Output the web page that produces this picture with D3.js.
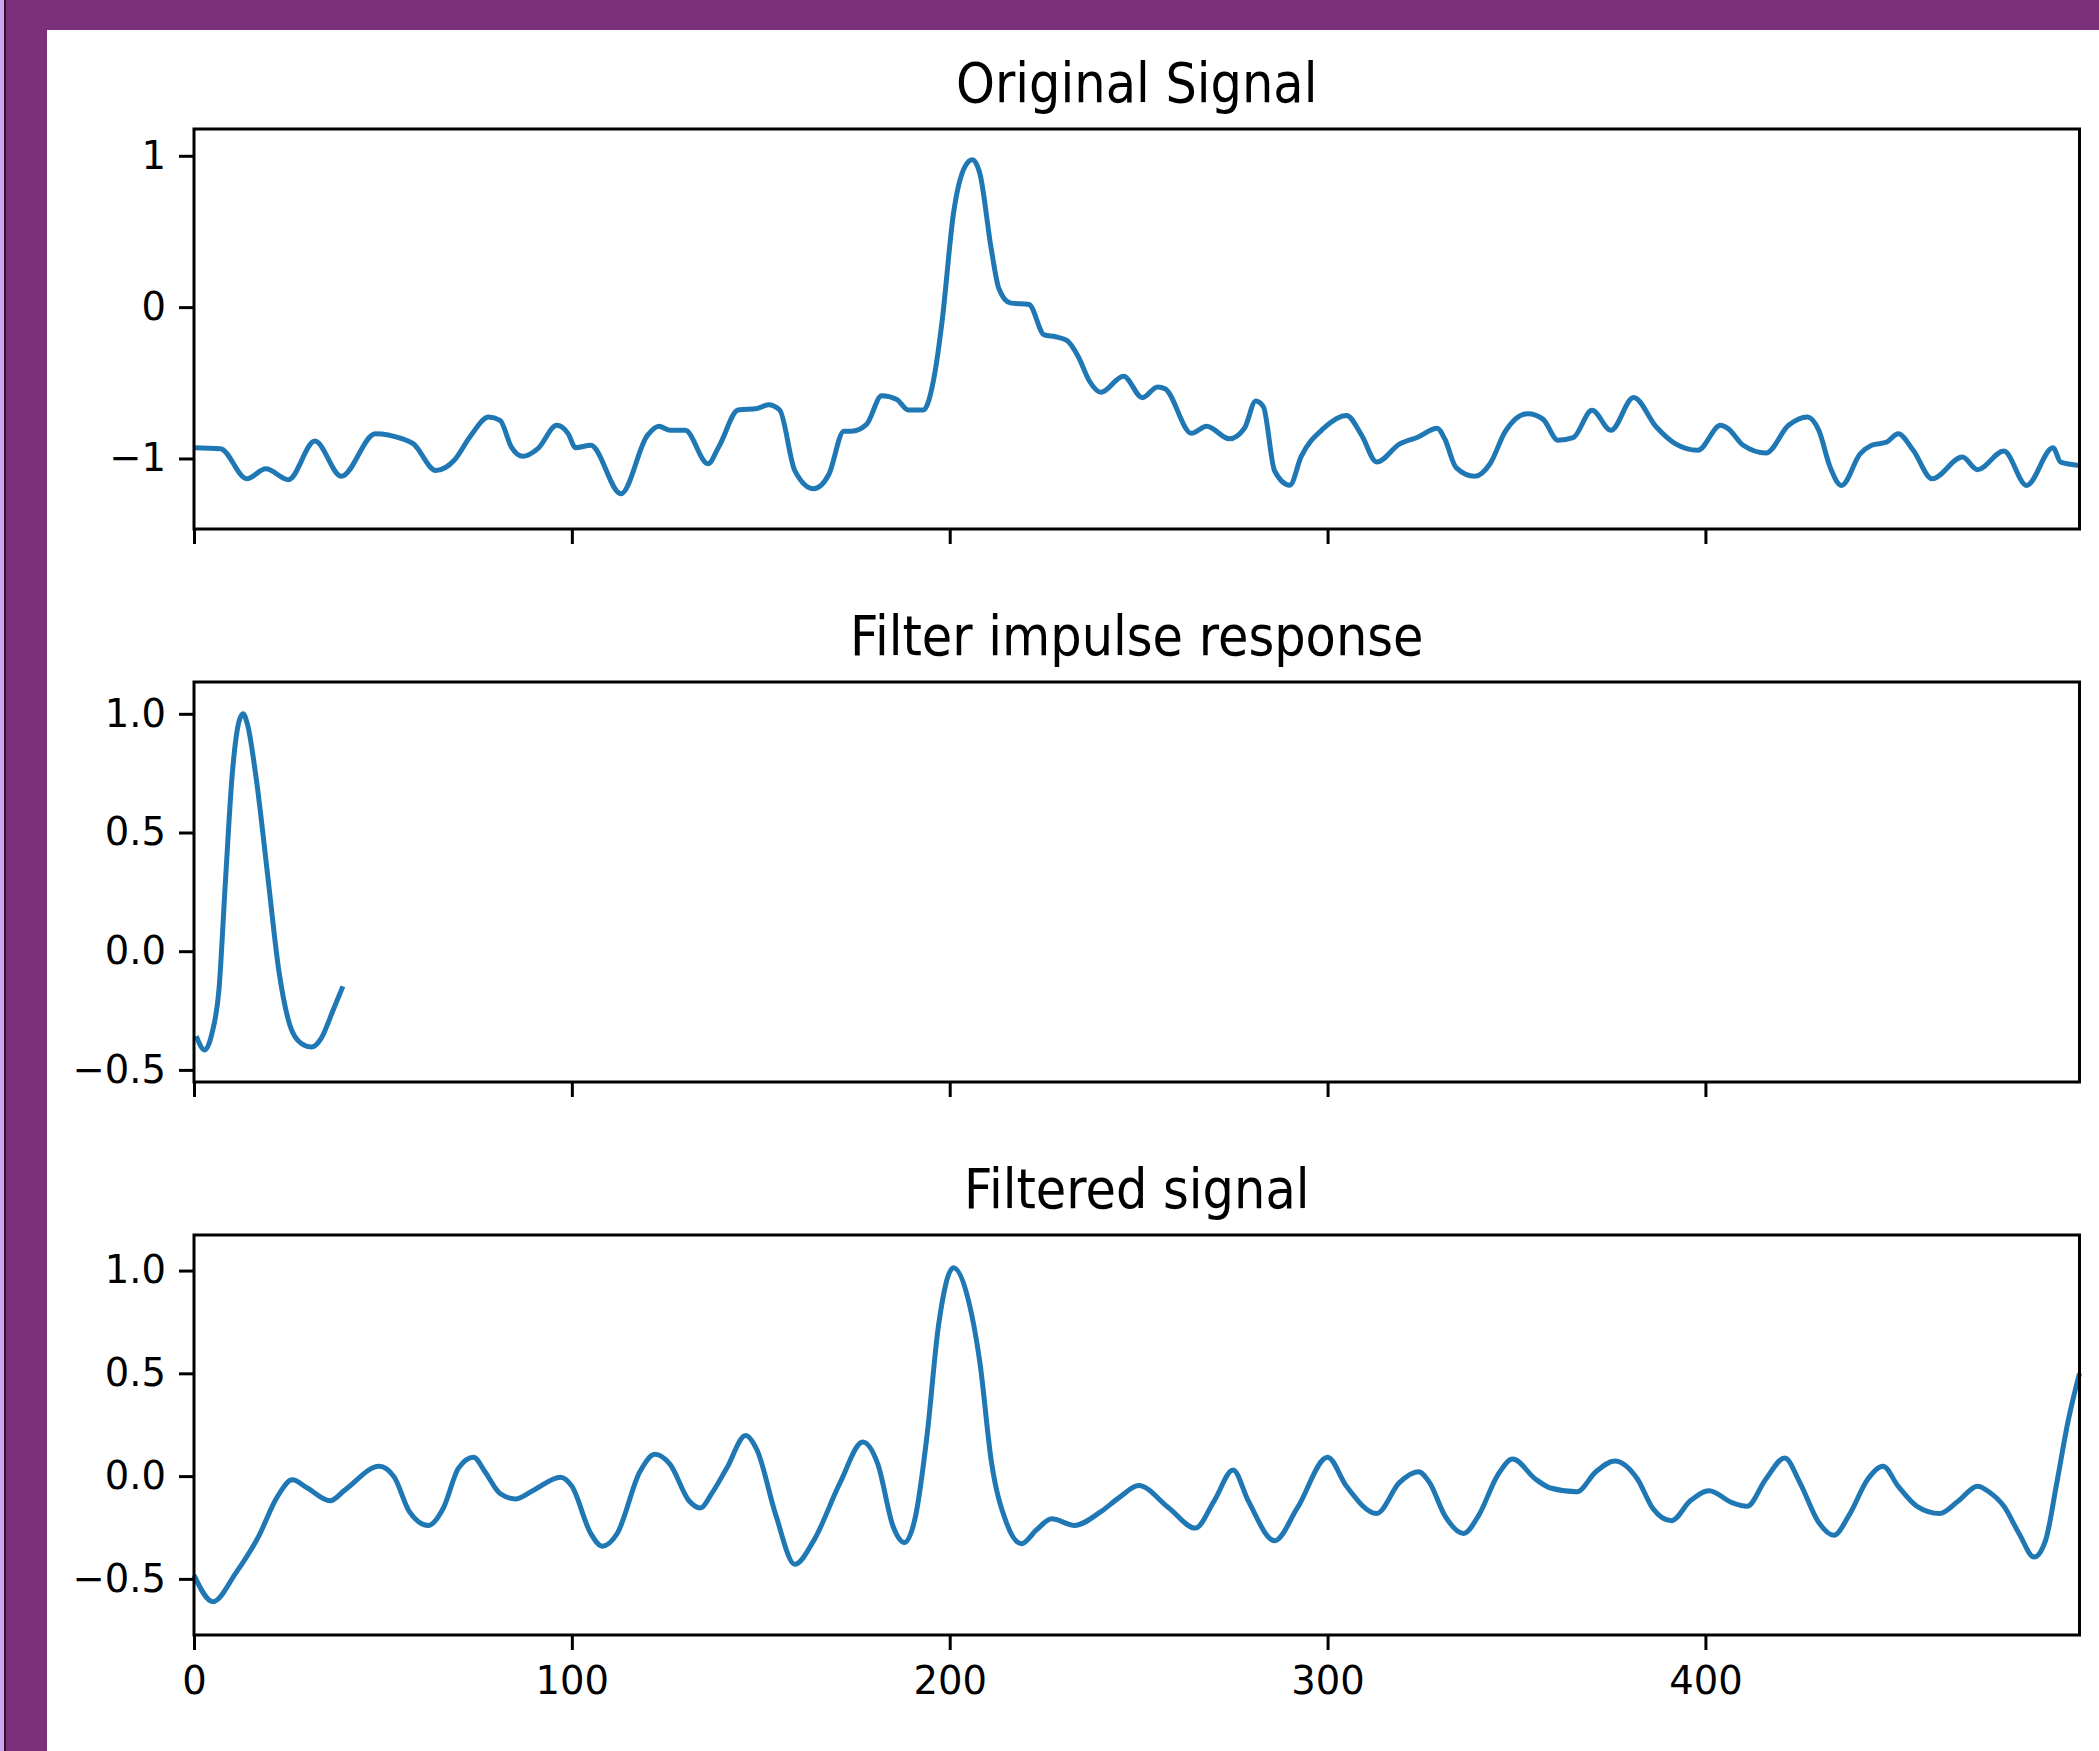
<!doctype html>
<html lang="en">
<head>
  <meta charset="utf-8">
  <title>Signal filtering</title>
  <style>
    body {
      margin: 0;
      background: #fff;
    }
    svg {
      display: block;
      font-family: "DejaVu Sans", sans-serif;
    }
    .frame {
      fill: none;
      stroke: #000;
      stroke-width: 3;
    }
    .axis .domain {
      display: none;
    }
    .axis line {
      stroke: #000;
      stroke-width: 3;
    }
    /* d3 puts font-family="sans-serif" on the axis group, so override it on the text */
    .axis text {
      font-family: "DejaVu Sans", sans-serif;
      font-size: 38.5px;
      fill: #000;
    }
    .title {
      font-size: 49.5px;
      fill: #000;
    }
    .signal {
      fill: none;
      stroke: #1f77b4;
      stroke-width: 5;
      stroke-linejoin: round;
    }
  </style>
</head>

<body>
  <div id="chart"></div>

  <script src="https://cdn.jsdelivr.net/npm/d3@7/dist/d3.min.js"></script>

  <script>
  // values (sample index, amplitude)
  var origX = [0,7,14,19,25,32,39,48,55,58,64,69,73,78,81,84,87,91,96,99,101,105,113,120,123,126,
    130,136,139,144,149,152,155,159,164,168,172,174,178,182,186,189,193,196,198,201,204,206,208,
    211,213,216,221,225,228,231,234,237,240,246,251,255,257,264,268,274,278,281,283,286,290,293,
    299,305,309,313,319,324,329,331,334,339,343,347,353,357,361,365,370,375,381,387,392,398,404,
    406,410,416,422,427,430,433,436,441,444,448,451,455,460,468,472,479,485,492,494,499];
  var origY = [-0.929,-0.935,-1.134,-1.068,-1.14,-0.885,-1.118,-0.836,-0.869,-0.902,-1.079,-1.008,
    -0.858,-0.726,-0.748,-0.925,-0.986,-0.935,-0.781,-0.836,-0.929,-0.913,-1.233,-0.847,-0.787,
    -0.814,-0.814,-1.035,-0.917,-0.68,-0.67,-0.645,-0.68,-1.08,-1.2,-1.106,-0.82,-0.82,-0.775,
    -0.586,-0.61,-0.68,-0.68,-0.444,-0.09,0.62,0.927,0.974,0.88,0.383,0.123,0.028,0.017,-0.184,
    -0.196,-0.22,-0.326,-0.49,-0.563,-0.456,-0.598,-0.527,-0.539,-0.834,-0.787,-0.87,-0.8,-0.62,
    -0.657,-1.083,-1.177,-0.988,-0.8,-0.716,-0.846,-1.024,-0.905,-0.858,-0.8,-0.87,-1.06,-1.118,
    -1.035,-0.823,-0.704,-0.74,-0.88,-0.863,-0.681,-0.814,-0.597,-0.792,-0.902,-0.946,-0.781,
    -0.803,-0.913,-0.964,-0.781,-0.726,-0.814,-1.057,-1.178,-0.968,-0.913,-0.891,-0.836,-0.946,
    -1.134,-0.991,-1.074,-0.951,-1.178,-0.929,-1.024,-1.046];

  var impX = [0.6,2.8,4.8,6.6,8.3,10.1,11.9,13,14.2,16.6,19.5,22.5,25.4,28.4,31.1,33.7,36.7,39.4];
  var impY = [-0.358,-0.416,-0.343,-0.163,0.289,0.741,0.967,1.0,0.952,0.711,0.319,-0.087,-0.313,
    -0.389,-0.404,-0.366,-0.253,-0.148];

  var filtX = [0,5,11,17,22,26,30,36,40,49,53,57,62,66,70,74,77,81,85,90,97,100,105,108,112,118,
    122,126,131,134,137,141,146,149,154,159,164,171,177,181,185,188,191,194,197,201,205,208,211,
    215,219,223,227,233,240,245,250,258,265,270,275,279,286,292,300,305,313,319,324,327,331,336,
    340,345,349,355,359,366,371,376,382,386,391,396,401,407,411,416,421,425,430,434,438,443,447,
    451,456,462,467,472,475,479,483,487,490,493,496,499];
  var filtY = [-0.482,-0.611,-0.473,-0.297,-0.102,-0.018,-0.058,-0.12,-0.067,0.048,-0.005,-0.173,
    -0.24,-0.155,0.039,0.092,0.021,-0.085,-0.111,-0.067,-0.005,-0.049,-0.279,-0.341,-0.279,0.021,
    0.106,0.057,-0.12,-0.155,-0.085,0.039,0.198,0.127,-0.191,-0.429,-0.314,-0.032,0.166,0.057,
    -0.244,-0.323,-0.191,0.198,0.728,1.014,0.852,0.551,0.074,-0.226,-0.329,-0.261,-0.208,-0.24,
    -0.173,-0.102,-0.046,-0.155,-0.253,-0.12,0.03,-0.12,-0.314,-0.155,0.092,-0.049,-0.182,-0.032,
    0.021,-0.032,-0.191,-0.279,-0.191,0.004,0.083,-0.014,-0.058,-0.076,0.021,0.074,-0.014,-0.155,
    -0.217,-0.12,-0.071,-0.129,-0.147,-0.014,0.088,-0.032,-0.226,-0.288,-0.191,-0.014,0.048,-0.049,
    -0.147,-0.182,-0.12,-0.049,-0.076,-0.147,-0.279,-0.394,-0.314,-0.032,0.269,0.5];

  var titles = ["Original Signal", "Filter impulse response", "Filtered signal"];
  var xTicks = [0, 100, 200, 300, 400];
  var xLimits = [0, 499];
  var yTicks = [[-1, 0, 1], [-0.5, 0, 0.5, 1], [-0.5, 0, 0.5, 1]];
  var yLimits = [[-1.466, 1.177], [-0.551, 1.134], [-0.773, 1.173]];

  (function(){

    var width = 2099;
    var height = 1751;
    var left = 194, right = 2079.5;
    var tops = [129, 682, 1235];
    var panelH = 400;

    var svg = d3.select("#chart")
        .append("svg")
        .attr("width", width)
        .attr("height", height);

    // purple frame on top and left, as in the screenshot
    svg.append("rect").attr("x", 0).attr("y", 0).attr("width", width).attr("height", 30)
      .attr("fill", "#7b3179");
    svg.append("rect").attr("x", 0).attr("y", 0).attr("width", 47).attr("height", height)
      .attr("fill", "#7b3179");
    svg.append("rect").attr("x", 0).attr("y", 0).attr("width", 4).attr("height", height)
      .attr("fill", "#cda4ee");
    svg.append("rect").attr("x", 4).attr("y", 0).attr("width", 2).attr("height", height)
      .attr("fill", "#2b1630");

    var x = d3.scaleLinear().domain(xLimits).range([left, right]);

    var series = [
      { xs: origX, ys: origY },
      { xs: impX, ys: impY },
      { xs: filtX, ys: filtY }
    ];

    series.forEach(function(s, i) {
      var top = tops[i];
      var y = d3.scaleLinear().domain(yLimits[i]).range([top + panelH, top]);
      var g = svg.append("g");

      var pts = s.xs.map(function(v, k) { return [v, s.ys[k]]; });
      // monotone keeps the read peaks/troughs where they are
      var line = d3.line()
        .x(function(d) { return x(d[0]); })
        .y(function(d) { return y(d[1]); })
        .curve(d3.curveMonotoneX);

      g.append("path")
        .datum(pts)
        .attr("class", "signal")
        .attr("d", line);

      // y axis: integers on the first panel, one decimal on the others
      var fmt = i === 0 ? d3.format("d") : d3.format(".1f");
      g.append("g")
        .attr("class", "axis")
        .attr("transform", "translate(" + left + ",0)")
        .call(d3.axisLeft(y).tickValues(yTicks[i]).tickFormat(fmt).tickSize(15).tickPadding(13));

      // shared x, labels only on the bottom one
      var xa = d3.axisBottom(x).tickValues(xTicks).tickSize(15).tickPadding(17);
      if (i < 2) xa.tickFormat("");
      g.append("g")
        .attr("class", "axis")
        .attr("transform", "translate(0," + (top + panelH) + ")")
        .call(xa);

      g.append("rect")
        .attr("class", "frame")
        .attr("x", left)
        .attr("y", top)
        .attr("width", right - left)
        .attr("height", panelH);

      g.append("text")
        .attr("class", "title")
        .attr("text-anchor", "middle")
        .attr("transform", "translate(" + ((left + right) / 2) + "," + (top - 27.5) + ") scale(1,1.1)")
        .text(titles[i]);
    });

  })();
  </script>
</body>
</html>
